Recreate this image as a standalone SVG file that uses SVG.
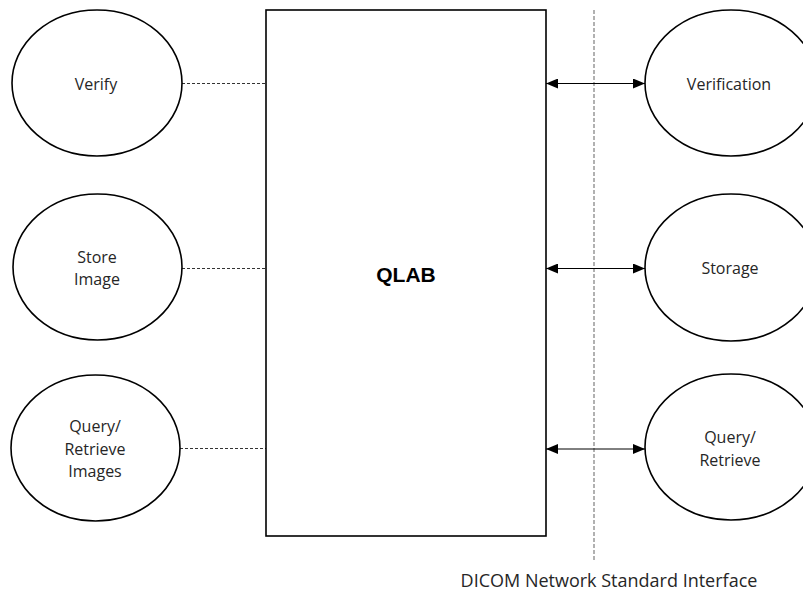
<svg xmlns="http://www.w3.org/2000/svg" width="803" height="592" viewBox="0 0 803 592">
<style>
.node{fill:#fff;stroke:#000;stroke-width:1.6}
.lbl{font-family:"Open Sans","Liberation Sans",sans-serif;font-size:16px;fill:#262626;text-anchor:middle}
.dash{stroke:#333;stroke-width:1;stroke-dasharray:3 2;fill:none}
.vdash{stroke:#888;stroke-width:1.3;stroke-dasharray:4 2;fill:none}
.arr{stroke:#000;stroke-width:1;fill:none;marker-start:url(#ah);marker-end:url(#ah)}
</style>
<defs>
<marker id="ah" viewBox="0 0 12 10" refX="12" refY="5" markerWidth="12" markerHeight="10" markerUnits="userSpaceOnUse" orient="auto-start-reverse">
<path d="M0,0 L12,5 L0,10 Z" fill="#000"/>
</marker>
</defs>
<g id="connectors">
<line class="vdash" x1="594" y1="10" x2="594" y2="562"/>
<line class="dash" x1="182" y1="83.5" x2="266" y2="83.5"/>
<line class="dash" x1="182" y1="268.5" x2="266" y2="268.5"/>
<line class="dash" x1="180" y1="448.5" x2="266" y2="448.5"/>
<line class="arr" x1="546" y1="83.5" x2="645" y2="83.5"/>
<line class="arr" x1="546" y1="268.5" x2="645" y2="268.5"/>
<line class="arr" x1="546" y1="449" x2="645" y2="449"/>
</g>
<g id="qlab">
<rect class="node" x="266" y="10" width="280" height="526"/>
<text x="406" y="282" style="font-family:'Liberation Sans',Arial,sans-serif;font-weight:bold;font-size:21px;text-anchor:middle;fill:#000">QLAB</text>
</g>
<g id="verify">
<ellipse class="node" cx="97" cy="83" rx="85" ry="73"/>
<text class="lbl" x="96" y="90">Verify</text>
</g>
<g id="store-image">
<ellipse class="node" cx="97.5" cy="267" rx="84.5" ry="73"/>
<text class="lbl" x="97" y="263">Store</text>
<text class="lbl" x="97" y="285">Image</text>
</g>
<g id="query-retrieve-images">
<ellipse class="node" cx="95.5" cy="448" rx="84.5" ry="73"/>
<text class="lbl" x="95" y="432">Query/</text>
<text class="lbl" x="95" y="455">Retrieve</text>
<text class="lbl" x="95" y="477">Images</text>
</g>
<g id="verification">
<ellipse class="node" cx="731" cy="83" rx="86" ry="73"/>
<text class="lbl" x="729" y="90">Verification</text>
</g>
<g id="storage">
<ellipse class="node" cx="731" cy="267.5" rx="86" ry="73.5"/>
<text class="lbl" x="730" y="274">Storage</text>
</g>
<g id="query-retrieve">
<ellipse class="node" cx="731" cy="447" rx="86" ry="73"/>
<text class="lbl" x="730" y="443">Query/</text>
<text class="lbl" x="730" y="466">Retrieve</text>
</g>
<text class="lbl" x="609" y="587" style="font-size:18px">DICOM Network Standard Interface</text>
</svg>
